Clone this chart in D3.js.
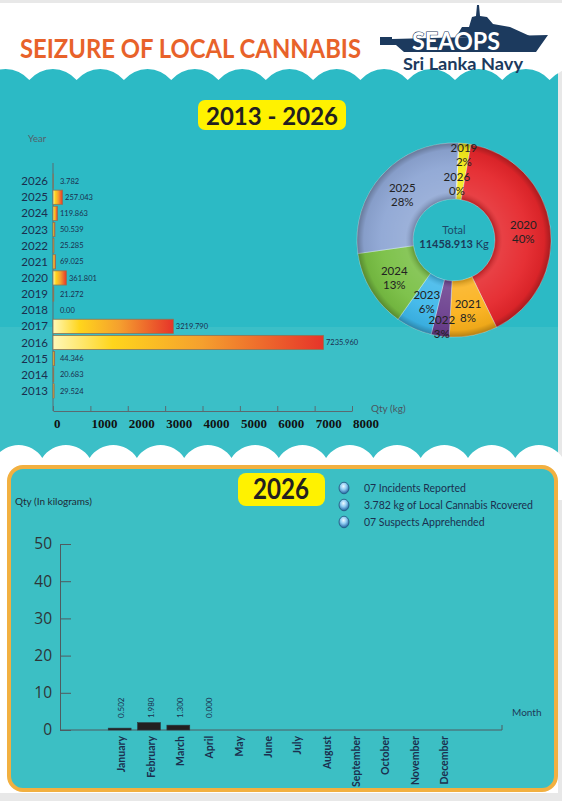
<!DOCTYPE html>
<html><head><meta charset="utf-8">
<script src="https://cdn.jsdelivr.net/npm/d3@7/dist/d3.min.js"></script>
<style>
body{margin:0;background:#e8e8e8;}
svg{display:block;font-family:Lato,"Open Sans",sans-serif;}
</style>
</head><body>
<svg id="c" width="562" height="801"></svg>
<script>
// ---------------- DATA ----------------
const years = ["2026","2025","2024","2023","2022","2021","2020","2019","2018","2017","2016","2015","2014","2013"];
const yearQty = [3.782,257.043,119.863,50.539,25.285,69.025,361.801,21.272,0.00,3219.790,7235.960,44.346,20.683,29.524];
const yearQtyLabels = ["3.782","257.043","119.863","50.539","25.285","69.025","361.801","21.272","0.00","3219.790","7235.960","44.346","20.683","29.524"];
const qtyTicks = [0,1000,2000,3000,4000,5000,6000,7000,8000];

const pieYears = ["2019","2020","2021","2022","2023","2024","2025","2026"];
const pieShares = [2,40,8,3,6,13,28,0.03];
const pieShareLabels = ["2%","40%","8%","3%","6%","13%","28%","0%"];
const pieTotal = "11458.913";

const months = ["January","February","March","April","May","June","July","August","September","October","November","December"];
const monthQty = [0.502,1.980,1.300,0.000,0,0,0,0,0,0,0,0];
const monthQtyLabels = ["0.502","1.980","1.300","0.000"];
const monthTicks = [0,10,20,30,40,50];
const highlights = ["07 Incidents Reported","3.782 kg of Local Cannabis Rcovered","07 Suspects Apprehended"];

// ---------------- SETUP ----------------
const svg = d3.select("#c");
const defs = svg.append("defs");
const navy = "#1b2f4f";

svg.append("rect").attr("x",0).attr("y",3).attr("width",558).attr("height",790).attr("fill","#ffffff");

svg.append("rect").attr("x",0).attr("y",60).attr("width",558).attr("height",400).attr("fill","#2cbac5");
svg.append("rect").attr("x",0).attr("y",327).attr("width",558).attr("height",133).attr("fill","#3bbfc7");

function scallops(yc, amp, period, phase, xmax){
  const r = (period*period/4 + amp*amp)/(2*amp);
  let pts = [];
  for(let x = phase; x < xmax + period; x += period) pts.push(x);
  let d = "";
  for(let i = pts.length-2; i >= 0; i--) d += ` A${r},${r} 0 0 0 ${pts[i]},${yc}`;
  return {d, first: pts[0], last: pts[pts.length-1]};
}
{
  const s = scallops(80, 11, 47.3, -18, 560);
  svg.append("path").attr("fill","#fff")
    .attr("d", `M${s.first},3 L${s.last},3 L${s.last},80` + s.d + " Z");
}
{
  const s = scallops(458, 13, 47.3, -5, 560);
  svg.append("path").attr("fill","#fff")
    .attr("d", `M${s.first},500 L${s.last},500 L${s.last},458` + s.d + " Z");
}

// ---------------- HEADER ----------------
svg.append("text").attr("x",20).attr("y",58)
  .attr("font-size",26).attr("font-weight",700).attr("fill","#e8622a")
  .attr("textLength",341).attr("lengthAdjust","spacingAndGlyphs")
  .text("SEIZURE OF LOCAL CANNABIS");

const logo = svg.append("g");
logo.append("path").attr("fill","#1c3a5e")
  .attr("d","M380,37 L392,37 L392,39 L548,35 L536,52 L404,52 L396,45 L380,45 Z");
logo.append("path").attr("fill","#1c3a5e")
  .attr("d","M456,37 L462,27 L469,27 L472,17 L476,16 L477,5 L479,5 L480,16 L487,17 L493,24 L510,27 L532,37 Z");
logo.append("text").attr("x",412).attr("y",50).attr("font-size",24).attr("font-weight",700)
  .attr("fill","#ffffff").attr("stroke","#1c3a5e").attr("stroke-width",1.2).attr("paint-order","stroke")
  .attr("textLength",88).attr("lengthAdjust","spacingAndGlyphs").text("SEAOPS");
logo.append("text").attr("x",403).attr("y",70).attr("font-size",17).attr("font-weight",700)
  .attr("fill","#1c3a5e").attr("textLength",120).attr("lengthAdjust","spacingAndGlyphs").text("Sri Lanka Navy");

svg.append("rect").attr("x",198).attr("y",100).attr("width",148).attr("height",30).attr("rx",7).attr("fill","#fff200");
svg.append("text").attr("x",272).attr("y",125).attr("text-anchor","middle").attr("font-size",25).attr("font-weight",700)
  .attr("fill","#231f20").attr("textLength",132).attr("lengthAdjust","spacingAndGlyphs").text("2013 - 2026");

// ---------------- YEARLY BAR CHART ----------------
const bg = defs.append("linearGradient").attr("id","barGrad").attr("x1",0).attr("x2",1).attr("y1",0).attr("y2",0);
[[0,"#fff8b8"],[0.22,"#ffd51c"],[0.55,"#f5a02e"],[1,"#e6342a"]]
  .forEach(([o,c])=>bg.append("stop").attr("offset",o).attr("stop-color",c));

const xQ = d3.scaleLinear().domain([0,8000]).range([53,352]);
const yY = d3.scaleBand().domain(years).range([174,398]).paddingInner(0.12);

svg.append("text").attr("x",28).attr("y",142).attr("font-size",9.5).attr("fill","#55606a").text("Year");
svg.append("line").attr("x1",53).attr("x2",53).attr("y1",163).attr("y2",411).attr("stroke","#5a6a70").attr("stroke-width",1);

const bars = svg.append("g");
years.forEach((yr,i)=>{
  const w = xQ(yearQty[i]) - xQ(0);
  if (w > 0) bars.append("rect").attr("x",xQ(0)).attr("y",yY(yr)).attr("width",w).attr("height",yY.bandwidth())
    .attr("fill","url(#barGrad)").attr("stroke","#8c7456").attr("stroke-width",0.8);
  bars.append("text").attr("x",Math.max(xQ(yearQty[i])+2.5,60)).attr("y",yY(yr)+yY.bandwidth()/2)
    .attr("dy","0.35em").attr("font-size",7.5).attr("fill",navy).text(yearQtyLabels[i]);
  bars.append("text").attr("x",48).attr("y",yY(yr)+yY.bandwidth()/2).attr("dy","0.35em")
    .attr("text-anchor","end").attr("font-size",11.5).attr("fill",navy).text(yr);
});

const xAx = svg.append("g").attr("transform","translate(0,411)")
  .call(d3.axisBottom(xQ).tickValues(qtyTicks).tickSize(-5).tickSizeOuter(0).tickFormat(d3.format("d")));
xAx.select(".domain").attr("stroke","#5a6a70");
xAx.selectAll(".tick line").attr("stroke","#5a6a70");
xAx.selectAll(".tick text").attr("text-anchor","start").attr("x",0.5).attr("y",17).attr("dy",0)
  .attr("font-family","'Liberation Serif','Times New Roman',serif").attr("font-weight",700)
  .attr("font-size",13).attr("fill","#111");
svg.append("text").attr("x",371).attr("y",412).attr("font-size",10).attr("fill","#4a5560").text("Qty (kg)");

// ---------------- DONUT ----------------
const cx = 454, cy = 240, R = 97, r0 = 41;
const pieColors = d3.scaleOrdinal().domain(pieYears)
  .range(["#f4ea1a","#e5262b","#fbb11b","#6b3f8e","#3db7ea","#78bf43","#8ea6d4","#c9c9c9"]);
const pie = d3.pie().sort(null).startAngle(0.05).endAngle(2*Math.PI+0.05);
const arcs = pie(pieShares);
const arc = d3.arc().innerRadius(r0).outerRadius(R);
const gp = svg.append("g").attr("transform",`translate(${cx},${cy})`);
gp.selectAll("path.slice").data(arcs).join("path").attr("class","slice")
  .attr("d",arc).attr("fill",(d,i)=>pieColors(pieYears[i]))
  .attr("stroke","rgba(255,255,255,0.45)").attr("stroke-width",0.8);
const sh = defs.append("radialGradient").attr("id","shade").attr("gradientUnits","userSpaceOnUse")
  .attr("cx",0).attr("cy",0).attr("r",R);
[[0.42,"rgba(0,0,0,0.22)"],[0.5,"rgba(255,255,255,0.12)"],[0.75,"rgba(255,255,255,0.05)"],[0.93,"rgba(0,0,0,0.05)"],[1,"rgba(0,0,0,0.28)"]]
  .forEach(([o,c])=>sh.append("stop").attr("offset",o).attr("stop-color",c));
gp.append("path").attr("d",d3.arc().innerRadius(r0).outerRadius(R).startAngle(0).endAngle(2*Math.PI)()).attr("fill","url(#shade)");

arcs.forEach((a,i)=>{
  const s = pieShares[i];
  const lr = s < 1 ? 58 : s < 2.5 ? 88 : s < 5 ? 86 : s < 7 ? 66 : 70;
  const m = (a.startAngle + a.endAngle)/2;
  const x = lr*Math.sin(m), y = -lr*Math.cos(m);
  gp.append("text").attr("x",x).attr("y",y-1).attr("text-anchor","middle").attr("font-size",11.5)
    .attr("fill","#222").text(pieYears[i]);
  gp.append("text").attr("x",x).attr("y",y+13).attr("text-anchor","middle").attr("font-size",11.5)
    .attr("fill","#222").text(pieShareLabels[i]);
});
gp.append("text").attr("x",0).attr("y",-6).attr("text-anchor","middle").attr("font-size",11).attr("fill","#1b4a6a").text("Total");
const tt = gp.append("text").attr("x",0).attr("y",8).attr("text-anchor","middle").attr("font-size",11).attr("fill","#1b3a5a");
tt.append("tspan").attr("font-weight",700).text(pieTotal);
tt.append("tspan").text(" Kg");

// ---------------- 2026 PANEL ----------------
svg.append("rect").attr("x",9).attr("y",467).attr("width",547).attr("height",323).attr("rx",14)
  .attr("fill","#3cbfc4").attr("stroke","#f2b040").attr("stroke-width",4);

svg.append("rect").attr("x",238).attr("y",473).attr("width",87).attr("height",33).attr("rx",8).attr("fill","#fff200");
svg.append("text").attr("x",281).attr("y",499).attr("text-anchor","middle").attr("font-size",28).attr("font-weight",700)
  .attr("fill","#231f20").attr("textLength",56).attr("lengthAdjust","spacingAndGlyphs").text("2026");

const bl = defs.append("radialGradient").attr("id","bullet").attr("cx",0.45).attr("cy",0.35).attr("r",0.65);
[[0,"#eef9ff"],[0.45,"#8fcdf2"],[1,"#1d5f9e"]].forEach(([o,c])=>bl.append("stop").attr("offset",o).attr("stop-color",c));
highlights.forEach((t,i)=>{
  const yy = 488 + i*17;
  svg.append("ellipse").attr("cx",344).attr("cy",yy).attr("rx",5).attr("ry",5.8)
    .attr("fill","url(#bullet)").attr("stroke","#24557f").attr("stroke-width",0.8);
  svg.append("text").attr("x",364).attr("y",yy).attr("dy","0.35em").attr("font-size",10.5).attr("fill",navy).text(t);
});
svg.append("text").attr("x",15).attr("y",505).attr("font-size",10).attr("fill","#1e2a36").text("Qty (In kilograms)");

const yM = d3.scaleLinear().domain([0,50]).range([730,544]);
const xM = d3.scaleBand().domain(months).range([105,457]).paddingInner(0.22).paddingOuter(0.11);

const yAx = svg.append("g").attr("transform","translate(60,0)")
  .call(d3.axisLeft(yM).tickValues(monthTicks).tickSize(-11).tickSizeOuter(0));
yAx.select(".domain").attr("stroke","#4f5b60");
yAx.selectAll(".tick line").attr("stroke","#4f5b60");
yAx.selectAll(".tick text").attr("x",-8).attr("font-family","'Open Sans',sans-serif").attr("font-size",15.5).attr("fill","#2e3538");

svg.append("path").attr("fill","none").attr("stroke","#4f5b60").attr("stroke-width",1)
  .attr("d",`M60,${yM(0)} H502 V${yM(0)-5}`);

months.forEach((m,i)=>{
  const v = monthQty[i];
  const h = yM(0) - yM(v);
  svg.append("rect").attr("x",xM(m)).attr("y",yM(v)).attr("width",xM.bandwidth()).attr("height",h)
    .attr("fill","#231f20").attr("stroke","#2a3a40").attr("stroke-width",0.6);
  const c = xM(m) + xM.bandwidth()/2 + 2;
  svg.append("text").attr("transform",`translate(${c},736) rotate(-90)`).attr("dy","0.35em")
    .attr("text-anchor","end").attr("font-size",10.5).attr("font-weight",700).attr("fill",navy).text(m);
  if (monthQtyLabels[i] !== undefined)
    svg.append("text").attr("transform",`translate(${c},718) rotate(-90)`).attr("dy","0.35em")
      .attr("font-size",8).attr("fill",navy).text(monthQtyLabels[i]);
});
svg.append("text").attr("x",512).attr("y",716).attr("font-size",10).attr("fill","#1e3a5a").text("Month");
</script>
</body></html>
